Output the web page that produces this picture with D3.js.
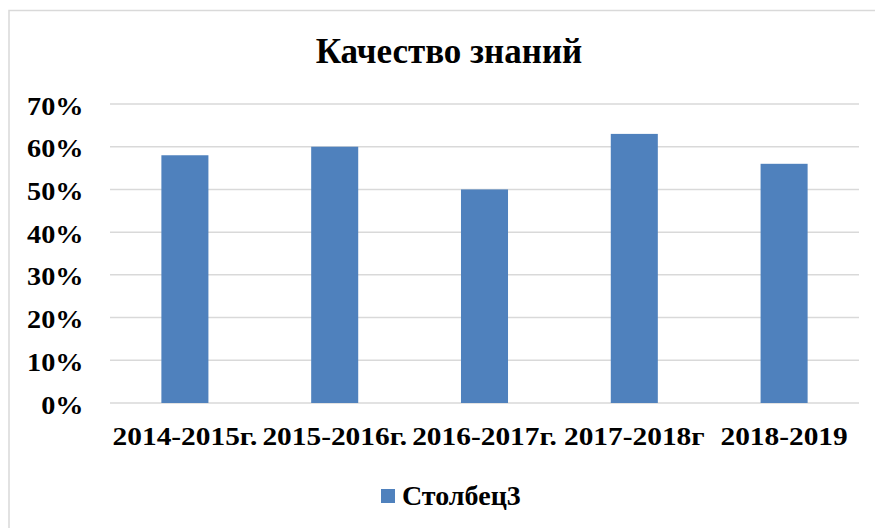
<!DOCTYPE html>
<html><head><meta charset="utf-8">
<script src="https://cdn.jsdelivr.net/npm/d3@7"></script>
<style>
body{margin:0;background:#fff;}
</style></head>
<body>
<svg id="c" width="875" height="528"></svg>
<script>
const categories = ["2014-2015г.","2015-2016г.","2016-2017г.","2017-2018г","2018-2019"];
const values = [0.58, 0.60, 0.50, 0.63, 0.56];
const yTicks = [0,0.1,0.2,0.3,0.4,0.5,0.6,0.7];
const seriesName = "Столбец3";
const title = "Качество знаний";

const FONT = "Liberation Serif";
const svg = d3.select("#c");
svg.append("rect").attr("x",9).attr("y",10.5).attr("width",880).attr("height",530)
  .attr("fill","#fff").attr("stroke","#d9d9d9").attr("stroke-width",1.5);

const x = d3.scaleBand().domain(categories).range([110,859]).paddingInner(0.686).paddingOuter(0.343);
const y = d3.scaleLinear().domain([0,0.7]).range([403,104]);

function styleText(sel, size){
  sel.attr("fill","#000")
     .style("font-family", FONT).style("font-weight","bold").style("font-size", size+"px");
}

styleText(svg.append("text").attr("x",449).attr("y",63).attr("text-anchor","middle").text(title), 35);

const grid = svg.append("g");
grid.selectAll("line").data(yTicks).join("line")
  .attr("x1",110).attr("x2",859).attr("y1",d=>y(d)).attr("y2",d=>y(d))
  .attr("stroke","#d9d9d9").attr("stroke-width",1.5);

const SX = 1.13;
const yAxis = svg.append("g").attr("transform","translate(110,0)")
  .call(d3.axisLeft(y).tickValues(yTicks).tickFormat(d3.format(".0%")).tickSize(0));
yAxis.select(".domain").remove();
styleText(yAxis.selectAll("text").attr("x",-26.5/SX).attr("dy","0.4em")
  .attr("transform",`scale(${SX},1)`), 25);

svg.append("g").selectAll("rect").data(values).join("rect")
  .attr("x",(d,i)=>x(categories[i])).attr("width",x.bandwidth())
  .attr("y",d=>y(d)).attr("height",d=>y(0)-y(d))
  .attr("fill","#4f81bd");

const xAxis = svg.append("g").attr("transform","translate(0,403)")
  .call(d3.axisBottom(x).tickSize(0).tickPadding(0));
xAxis.select(".domain").remove();
styleText(xAxis.selectAll("text").attr("y",42).attr("dy",0)
  .attr("transform",`scale(${SX},1)`), 26);

const lg = svg.append("g");
lg.append("rect").attr("x",381).attr("y",489).attr("width",14).attr("height",14).attr("fill","#4f81bd");
styleText(lg.append("text").attr("x",402).attr("y",505).text(seriesName), 28);
</script>
</body></html>
